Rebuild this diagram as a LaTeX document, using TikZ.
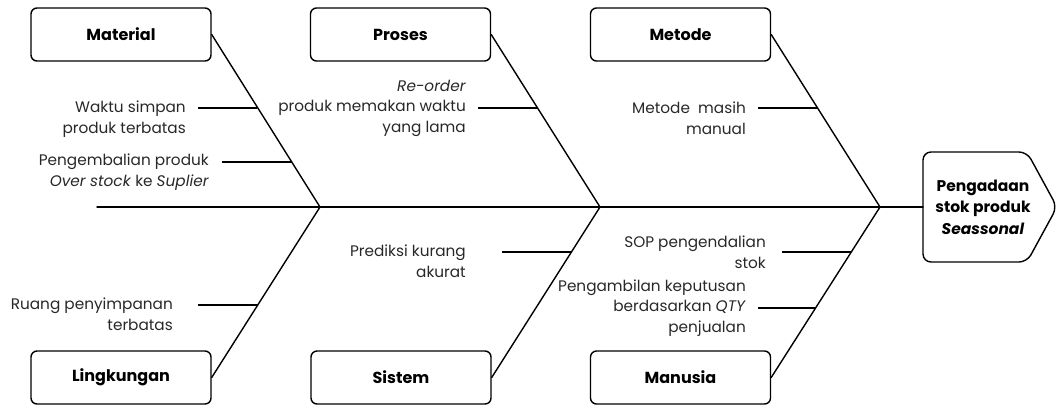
\documentclass[tikz,border=0pt]{standalone}
\usepackage{fontspec}
\setmainfont{Poppins}
\usetikzlibrary{calc}
\definecolor{txt}{RGB}{40,40,40}
\tikzset{
  cat/.style={draw, rounded corners=6pt, line width=1.4pt, minimum width=180pt, minimum height=53pt, inner sep=0pt, font=\bfseries\fontsize{16}{18}\selectfont},
  cause/.style={anchor=east, align=right, inner sep=0pt, text=txt, font=\fontsize{15.3}{20.5}\selectfont},
  bone/.style={line width=1.4pt, line cap=round},
  rib/.style={line width=1.4pt},
}
\begin{document}
\begin{tikzpicture}[x=1pt,y=-1pt]
\useasboundingbox (0,0) rectangle (1056,405);
% category boxes
\node[cat] (mat) at (121,34.5) {Material};
\node[cat] (pro) at (400.5,34.5) {Proses};
\node[cat] (met) at (680.5,34.5) {Metode};
\node[cat] (lin) at (121,377.5) {Lingkungan};
\node[cat] (sis) at (401,377.5) {Sistem};
\node[cat] (man) at (680.5,377.5) {Manusia};
% head
\node[font=\bfseries\fontsize{15.5}{21.5}\selectfont, align=center, inner sep=0pt] (head) at (983,207) {Pengadaan\\stok produk\\\textit{Seassonal}};
\draw[line width=1.4pt, rounded corners=8pt] ($(head.center)+(-60,-55)$) -- ($(head.center)+(44,-55)$) -- ($(head.center)+(74,0)$) -- ($(head.center)+(44,55)$) -- ($(head.center)+(-60,55)$) -- cycle;
\coordinate (headw) at ($(head.center)+(-60,0)$);
% spine
\coordinate (tail) at (97,207);
\coordinate (j1) at (320,207);
\coordinate (j2) at (600,207);
\coordinate (j3) at (880,207);
\draw[bone] (tail) -- (headw);
% bones
\draw[bone] (mat.east) -- (j1);
\draw[bone] (pro.east) -- (j2);
\draw[bone] (met.east) -- (j3);
\draw[bone] (lin.east) -- (j1);
\draw[bone] (sis.east) -- (j2);
\draw[bone] (man.east) -- (j3);
% causes
\node[cause] (c1) at (186,119) {Waktu simpan\\produk terbatas};
\node[cause] (c2) at (209,172) {Pengembalian produk\\\textit{Over stock} ke \textit{Suplier}};
\node[cause] (c3) at (466,108) {\textit{Re-order}\\produk memakan waktu\\yang lama};
\node[cause] (c4) at (746,118) {Metode\ \ masih\\manual};
\node[cause] (c5) at (173,314) {Ruang penyimpanan\\terbatas};
\node[cause] (c6) at (466,261) {Prediksi kurang\\akurat};
\node[cause] (c7) at (766,252) {SOP pengendalian\\stok};
\node[cause] (c8) at (746,308) {Pengambilan keputusan\\berdasarkan \textit{QTY}\\penjualan};
% ribs
\coordinate (r1s) at (198,108);  \coordinate (r1e) at ($(mat.east)!0.421!(j1)$);
\coordinate (r2s) at (222,162);  \coordinate (r2e) at ($(mat.east)!0.737!(j1)$);
\coordinate (r3s) at (478,108);  \coordinate (r3e) at ($(pro.east)!0.421!(j2)$);
\coordinate (r4s) at (758,108);  \coordinate (r4e) at ($(met.east)!0.421!(j3)$);
\coordinate (r5s) at (198,305);  \coordinate (r5e) at ($(lin.east)!0.427!(j1)$);
\coordinate (r6s) at (502,252);  \coordinate (r6e) at ($(sis.east)!0.737!(j2)$);
\coordinate (r7s) at (782,252);  \coordinate (r7e) at ($(man.east)!0.737!(j3)$);
\coordinate (r8s) at (758,308);  \coordinate (r8e) at ($(man.east)!0.409!(j3)$);
\foreach \i in {1,...,8} {\draw[rib] (r\i s) -- (r\i s -| r\i e);}
\end{tikzpicture}
\end{document}
